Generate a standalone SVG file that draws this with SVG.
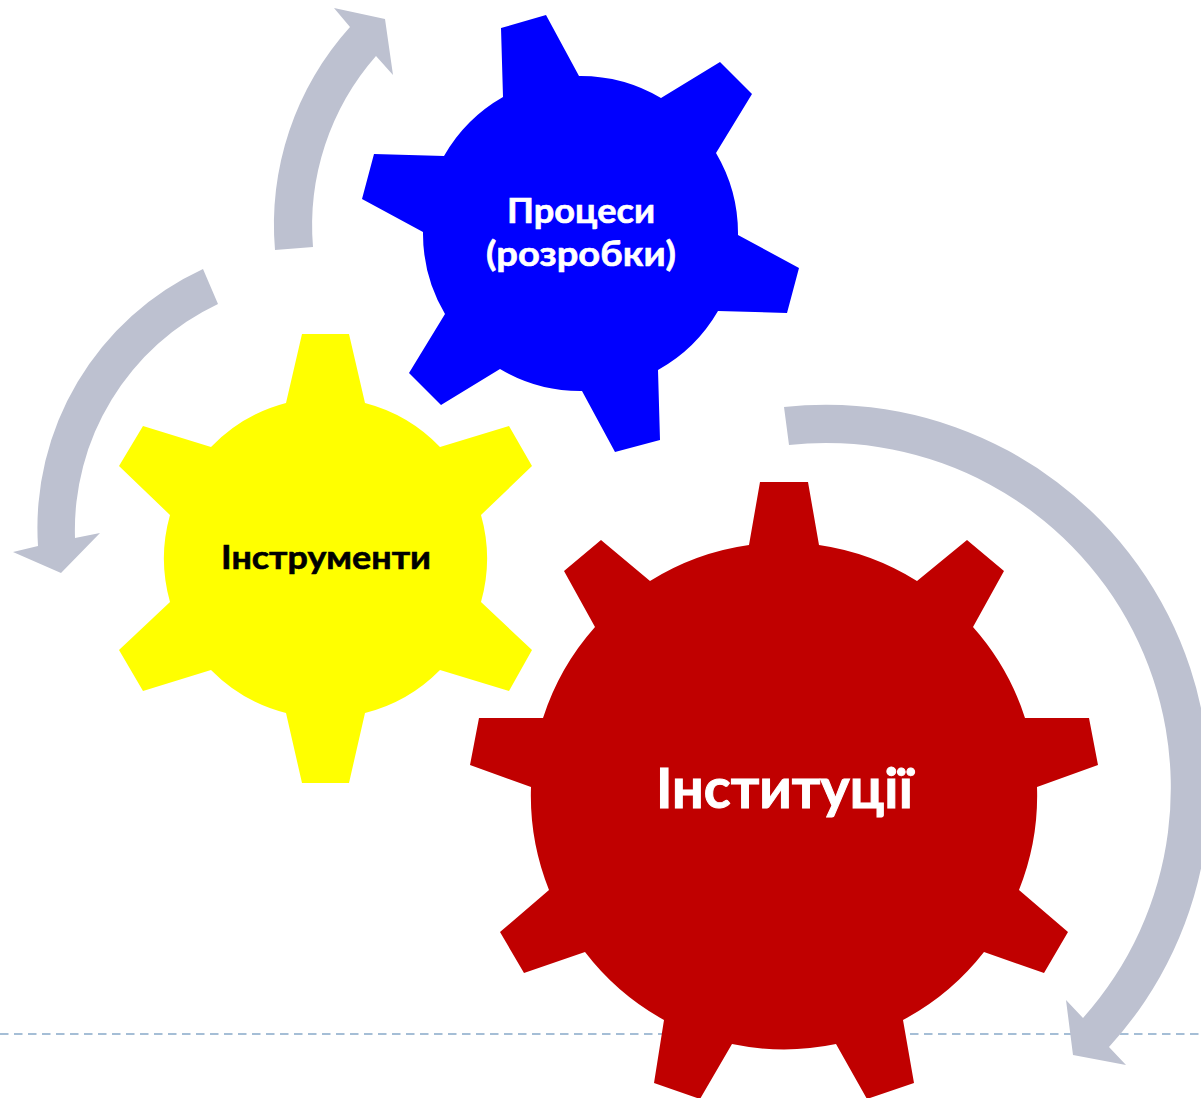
<svg xmlns="http://www.w3.org/2000/svg" width="1201" height="1098" viewBox="0 0 1201 1098">
<style>
.arrow{fill:#BDC1D0}
.lbl{font-family:"Lato","Open Sans","Liberation Sans",sans-serif;font-weight:700;stroke-width:.6}
</style>
<rect width="1201" height="1098" fill="#FFFFFF"/>
<line x1="0" y1="1034" x2="1201" y2="1034" stroke="#A5BED6" stroke-width="2" stroke-dasharray="8.5 5.5"/>
<g id="connectors">
<path class="arrow" d="M275 250A295 295 0 0 1 350 27L334 8L385 19L393 75L376 56A257 257 0 0 0 313 247Z"/>
<path class="arrow" d="M203 269A285 285 0 0 0 38 546L13 552L61 573L100 533L75 538A250 250 0 0 1 218 304Z"/>
<path class="arrow" d="M784 407A383.500 383.500 0 0 1 1109 1047L1126 1065L1073 1055L1066 1000L1083 1018A345 345 0 0 0 789 445Z"/>
</g>
<g id="node-procesy">
<path fill="#0000FF" d="M501 28L546 15L579 76A158 158 0 0 1 661 98L720 62L752 94L716 153A158 158 0 0 1 738 235L799 268L787 313L718 311A158 158 0 0 1 658 370L660 440L615 452L582 391A158 158 0 0 1 500 369L441 405L409 373L445 314A158 158 0 0 1 423 232L362 199L374 154L444 156A158 158 0 0 1 503 97Z"/>
<text class="lbl" fill="#FFFFFF" stroke="#FFFFFF" font-size="34" x="507" y="223" textLength="148" lengthAdjust="spacingAndGlyphs">Процеси</text>
<text class="lbl" fill="#FFFFFF" stroke="#FFFFFF" font-size="34" x="486" y="266" textLength="190" lengthAdjust="spacingAndGlyphs">(розробки)</text>
</g>
<g id="node-instrumenty">
<path fill="#FFFF00" d="M302 334L349 334L365 403A160 160 0 0 1 440 447L509 426L532 466L481 515A160 160 0 0 1 481 602L532 650L509 691L440 670A160 160 0 0 1 365 713L349 783L302 783L286 713A160 160 0 0 1 211 670L143 691L119 650L170 602A160 160 0 0 1 170 515L119 466L143 426L211 447A160 160 0 0 1 286 403Z"/>
<text class="lbl" fill="#000000" stroke="#000000" font-size="32" x="221" y="569" textLength="210" lengthAdjust="spacingAndGlyphs">Інструменти</text>
</g>
<g id="node-instytutsii">
<path fill="#C00000" d="M760 482L808 482L819 545A253.500 253.500 0 0 1 917 581L967 540L1004 571L973 627A253.500 253.500 0 0 1 1025 718L1089 718L1098 765L1037 787A253.500 253.500 0 0 1 1019 890L1068 932L1044 973L984 952A253.500 253.500 0 0 1 903 1020L914 1083L867 1099L836 1044A253.500 253.500 0 0 1 732 1044L700 1099L654 1083L664 1020A253.500 253.500 0 0 1 585 952L524 973L500 932L549 890A253.500 253.500 0 0 1 531 787L470 765L479 718L543 718A253.500 253.500 0 0 1 595 627L564 571L601 540L650 581A253.500 253.500 0 0 1 749 545Z"/>
<text class="lbl" fill="#FFFFFF" stroke="#FFFFFF" style="stroke-width:1" font-size="56" x="656" y="808" textLength="257" lengthAdjust="spacingAndGlyphs">Інституції</text>
</g>
</svg>
